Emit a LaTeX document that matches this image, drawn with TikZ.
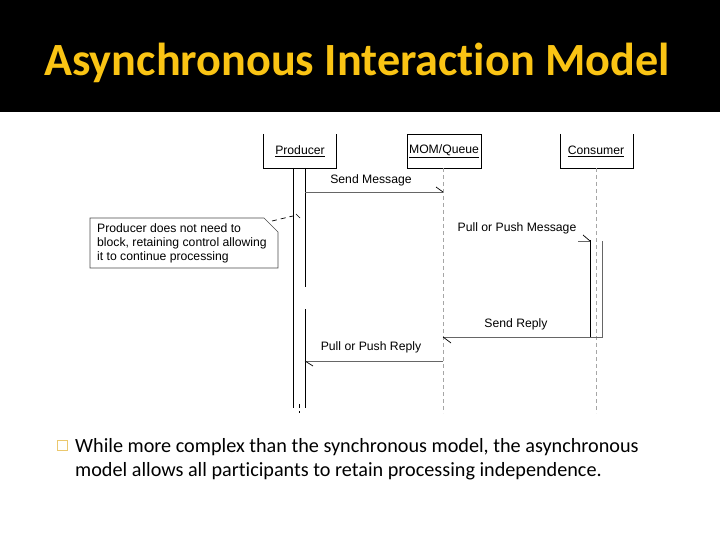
\documentclass[tikz,border=0pt]{standalone}
\usepackage{fontspec}
\setmainfont[Ligatures=NoCommon]{Carlito}
\newfontfamily\diafont{Liberation Sans}
\definecolor{titleyellow}{RGB}{250,196,20}
\definecolor{bulletyellow}{RGB}{235,200,110}
\begin{document}
\begin{tikzpicture}[x=1pt,y=-1pt,
  lbl/.style={font=\diafont\fontsize{12.2}{14}\selectfont, inner sep=0pt},
  boxline/.style={draw=black, line width=0.7pt},
  lifeline/.style={draw=gray!70, dashed, dash pattern=on 4pt off 3pt, line width=0.6pt},
  msg/.style={draw=gray!80!black, line width=0.7pt},
  tick/.style={draw=black, line width=0.7pt},
  bar/.style={draw=black, line width=1pt}]
\useasboundingbox (0,0) rectangle (720,540);
\fill[black] (0,0) rectangle (720,112);
\node[text=titleyellow, font=\bfseries\fontsize{46.2}{50}\selectfont, inner sep=0pt] (title) at (357,63) {Asynchronous Interaction Model};

% participant boxes
\node[lbl] (prod) at (300,151) {\underline{Producer}};
\node[lbl] (mom) at (444,151) {\underline{MOM/Queue}};
\node[lbl] (cons) at (596,151) {\underline{Consumer}};
\draw[boxline] (263,134) -- (263,168) -- (336,168) -- (336,134);
\draw[boxline] (407,134) -- (407,168) -- (481,168) -- (481,134) -- cycle;
\draw[boxline] (560,134) -- (560,168) -- (633,168) -- (633,134);

% lifelines
\coordinate (m0) at (443,168);
\coordinate (m1) at (443,413);
\coordinate (c0) at (596,168);
\coordinate (c1) at (596,413);
\draw[lifeline] (m0) -- (m1);
\draw[lifeline] (c0) -- (c1);

% producer activation
\draw[bar] (293,168) -- (293,408);
\draw[bar] (305,168) -- (305,287);
\draw[bar] (305,309) -- (305,408);
\draw[black, line width=1pt, dashed, dash pattern=on 4pt off 3pt] (299,404) -- (299,413);

% consumer activation
\draw[bar] (590,240) -- (590,337);
\draw[msg] (602,241) -- (602,337) -- (590,337);

% messages
\coordinate (s1a) at (305,192);
\coordinate (s1b) at (443,192);
\draw[msg] (s1a) -- (s1b);
\draw[tick] (436,187) -- (s1b);
\node[lbl] (l1) at (371,180) {Send Message};

\coordinate (s2a) at (578,241);
\coordinate (s2b) at (590,241);
\draw[msg] (s2a) -- (s2b);
\draw[tick] (583,235) -- (s2b);
\node[lbl] (l2) at (517,228) {Pull or Push Message};

\coordinate (s3a) at (602,337);
\coordinate (s3b) at (443,337);
\draw[msg] (s3a) -- (s3b);
\draw[tick] (451,343) -- (s3b);
\node[lbl] (l3) at (516,324) {Send Reply};

\coordinate (s4a) at (443,361);
\coordinate (s4b) at (305,361);
\draw[msg] (s4a) -- (s4b);
\draw[tick] (313,366) -- (s4b);
\node[lbl] (l4) at (371,347) {Pull or Push Reply};

% note
\draw[line width=0.6pt, draw=gray!60!black, fill=white] (90,218) -- (264,218) -- (278,232) -- (278,268) -- (90,268) -- cycle;
\node[lbl, anchor=north west, align=left, font=\diafont\fontsize{12.2}{14}\selectfont] (note) at (97,223) {Producer does not need to\\block, retaining control allowing\\it to continue processing};
\coordinate (n1) at (272,221);
\coordinate (n2) at (293,216);
\draw[black, line width=0.7pt, dashed, dash pattern=on 5pt off 4pt] (n1) -- (n2);
\draw[tick] (296,214) -- (300,218);

% bullet text
\draw[bulletyellow, line width=0.8pt] (57.5,440.5) rectangle (67.5,450.5);
\node[anchor=base west, inner sep=0pt, font=\fontsize{20.2}{24}\selectfont] (t1) at (75,452) {While more complex than the synchronous model, the asynchronous};
\node[anchor=base west, inner sep=0pt, font=\fontsize{20.2}{24}\selectfont] (t2) at (75,476) {model allows all participants to retain processing independence.};
\end{tikzpicture}
\end{document}
